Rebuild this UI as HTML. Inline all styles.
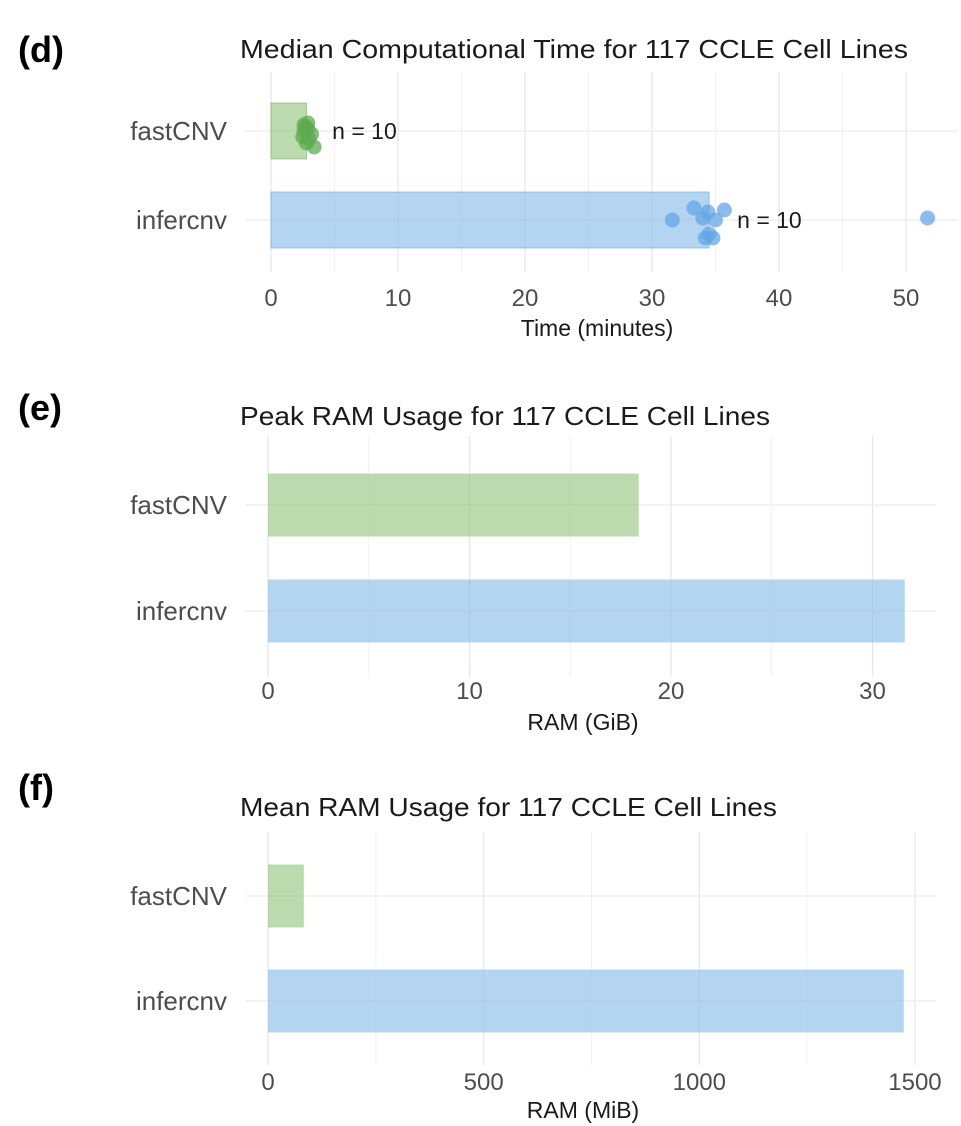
<!DOCTYPE html>
<html><head><meta charset="utf-8">
<style>
html,body{margin:0;padding:0;background:#fff;}
svg{display:block;font-family:"Liberation Sans",Arial,sans-serif;}
</style></head>
<body>
<svg id="chart" width="961" height="1126" viewBox="0 0 961 1126" xmlns="http://www.w3.org/2000/svg"></svg>
<script>
// ---- data ----
const categories = ["fastCNV", "infercnv"];
const timeMedians = [2.8, 34.5];
const timePointsFast = [2.6, 2.9, 3.2, 2.5, 2.7, 3.0, 2.6, 2.9, 3.4, 2.8];
const timePointsInfer = [31.6, 33.3, 34.4, 35.0, 35.7, 34.2, 34.5, 34.0, 34.8, 51.7];
const nLabels = ["n = 10", "n = 10"];
const timeTicks = [0, 10, 20, 30, 40, 50];
const peakRam = [18.4, 31.6];
const peakTicks = [0, 10, 20, 30];
const meanRam = [83, 1474];
const meanTicks = [0, 500, 1000, 1500];

const NS = "http://www.w3.org/2000/svg";
const svg = document.getElementById("chart");
function mk(tag, attrs, parent) {
  const e = document.createElementNS(NS, tag);
  for (const k in attrs) e.setAttribute(k, attrs[k]);
  (parent || svg).appendChild(e);
  return e;
}
const jitterFast = [-6, -2, 3, 6, -4, 8, 0, -8, 16, 12];
const jitterInfer = [0, -12, -8, 0, -10, 18, 14, -2, 18, -2];

function panel(cfg) {
  const g = mk("g", {});
  
  
  const x = v => cfg.x0 + (v - 0) * cfg.pxPerUnit;
  const lt = mk("text", {x: 18, y: cfg.letterY, "font-size": 36, "font-weight": "bold", fill: "#000"}, g);
  lt.textContent = cfg.letter;
  
  
  const tt = mk("text", {x: 240, y: cfg.titleY, "font-size": 26, fill: "#1a1a1a", textLength: cfg.titleLen, lengthAdjust: "spacingAndGlyphs"}, g);
  tt.textContent = cfg.title;
  
  
  const step = cfg.ticks[1] - cfg.ticks[0];
  for (let v = step / 2; x(v) <= cfg.gridRight; v += step) {
    const l = mk("line", {x1: x(v), x2: x(v), y1: cfg.gridTop, y2: cfg.gridBottom, stroke: "#f2f2f2", "stroke-width": 1}, g);
    
    
  }
  cfg.ticks.forEach(t => {
    const l = mk("line", {x1: x(t), x2: x(t), y1: cfg.gridTop, y2: cfg.gridBottom, stroke: "#e6e6e6", "stroke-width": 1.2}, g);
    
    
    const tl = mk("text", {x: x(t), y: cfg.tickY, "font-size": 24, fill: "#4d4d4d", "text-anchor": "middle"}, g);
    tl.textContent = t;
    
    
  });
  const colors = ["rgba(150,200,130,0.65)", "rgba(140,190,235,0.65)"];
  const strokes = ["rgba(120,180,100,0.6)", "rgba(110,165,220,0.6)"];
  categories.forEach((c, i) => {
    const cy = cfg.rowY[i];
    const hl = mk("line", {x1: 245, x2: cfg.gridRight, y1: cy, y2: cy, stroke: "#ececec", "stroke-width": 1.2}, g);
    
    
    const yl = mk("text", {x: 227, y: cy + 9, "font-size": 26, fill: "#4d4d4d", "text-anchor": "end"}, g);
    yl.textContent = c;
    
    
    const r = mk("rect", {x: x(0), y: cy - cfg.barH / 2, width: x(cfg.values[i]) - x(0), height: cfg.barH, fill: colors[i], stroke: cfg.points ? strokes[i] : "none", "stroke-width": 1}, g);
    
    
  });
  const xt = mk("text", {x: cfg.axisTitleX, y: cfg.axisTitleY, "font-size": 23, fill: "#1a1a1a", "text-anchor": "middle"}, g);
  xt.textContent = cfg.axisTitle;
  
  
  if (cfg.points) {
    const sets = [timePointsFast, timePointsInfer];
    const jit = [jitterFast, jitterInfer];
    const pc = ["rgba(95,170,80,0.75)", "rgba(100,165,230,0.75)"];
    sets.forEach((arr, i) => {
      arr.forEach((v, j) => {
        const p = mk("circle", {cx: x(v), cy: cfg.rowY[i] + jit[i][j], r: 7.5, fill: pc[i]}, g);
        
        
      });
      const nx = i === 0 ? x(Math.max(...arr)) + 18 : x(timeMedians[1]) + 28;
      const nt = mk("text", {x: nx, y: cfg.rowY[i] + 8, "font-size": 23, fill: "#1a1a1a"}, g);
      nt.textContent = nLabels[i];
      
      
    });
  }
}

panel({name: "time-panel", letter: "(d)", letterY: 62, title: "Median Computational Time for 117 CCLE Cell Lines", titleY: 58, titleLen: 668,
  x0: 271, pxPerUnit: 12.7, ticks: timeTicks, gridTop: 72, gridBottom: 272, gridRight: 958,
  rowY: [131, 220], barH: 56, values: timeMedians, tickY: 306, axisTitle: "Time (minutes)", axisTitleX: 597, axisTitleY: 336, points: true});
panel({name: "peak-ram-panel", letter: "(e)", letterY: 420, title: "Peak RAM Usage for 117 CCLE Cell Lines", titleY: 425, titleLen: 530,
  x0: 268, pxPerUnit: 20.15, ticks: peakTicks, gridTop: 436, gridBottom: 677, gridRight: 936,
  rowY: [505, 611], barH: 63, values: peakRam, tickY: 699, axisTitle: "RAM (GiB)", axisTitleX: 583, axisTitleY: 730, points: false});
panel({name: "mean-ram-panel", letter: "(f)", letterY: 800, title: "Mean RAM Usage for 117 CCLE Cell Lines", titleY: 816, titleLen: 537,
  x0: 268, pxPerUnit: 0.4313, ticks: meanTicks, gridTop: 832, gridBottom: 1065, gridRight: 936,
  rowY: [896, 1001], barH: 63, values: meanRam, tickY: 1090, axisTitle: "RAM (MiB)", axisTitleX: 583, axisTitleY: 1118, points: false});
</script>
</body></html>
